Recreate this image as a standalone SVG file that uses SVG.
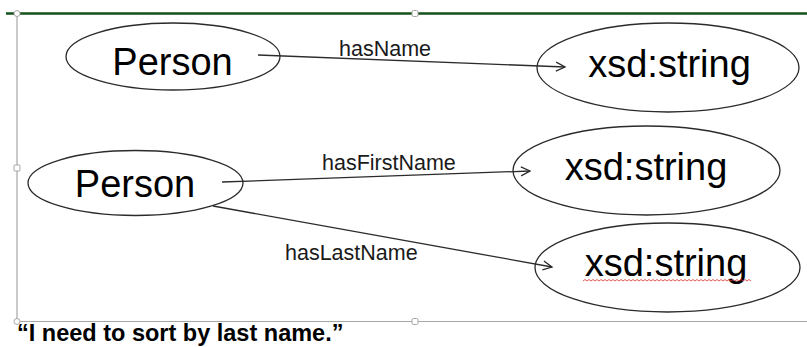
<svg xmlns="http://www.w3.org/2000/svg" width="807" height="347" viewBox="0 0 807 347">
  <style>
    .node { fill: #ffffff; stroke: #2b2b2b; stroke-width: 1.3; }
    .big { font-family: "Liberation Sans", Arial, sans-serif; font-size: 38px; fill: #000; }
    .lbl { font-family: "Liberation Sans", Arial, sans-serif; font-size: 21.5px; fill: #1a1a1a; }
    .edge { stroke: #2b2b2b; stroke-width: 1.3; fill: none; }
    .frame { stroke: #a6a6a6; stroke-width: 1.2; fill: none; }
    .handle { fill: #ffffff; stroke: #a6a6a6; stroke-width: 1; }
  </style>
  <defs>
    <marker id="arrow" markerUnits="userSpaceOnUse" markerWidth="12" markerHeight="12" refX="10" refY="6" orient="auto">
      <path d="M1,1.5 L10,6 L1,10.5" fill="none" stroke="#2b2b2b" stroke-width="1.3"/>
    </marker>
  </defs>
  <rect width="807" height="347" fill="#ffffff"/>

  <!-- selection frame and top rule -->
  <g id="frame">
    <line class="frame" x1="17" y1="13" x2="17" y2="321.5"/>
    <line class="frame" x1="17" y1="321.5" x2="807" y2="321.5"/>
    <line x1="6" y1="13.5" x2="807" y2="13.5" stroke="#14501a" stroke-width="2.6"/>
    <circle class="handle" cx="17" cy="13.5" r="3"/>
    <rect class="handle" x="412" y="10.5" width="6" height="6" rx="1.5"/>
    <rect class="handle" x="14" y="165" width="6" height="6" rx="1"/>
    <circle class="handle" cx="17" cy="321.5" r="3"/>
    <rect class="handle" x="412" y="318.5" width="6" height="6" rx="1.5"/>
  </g>

  <g id="person1">
    <ellipse class="node" cx="173" cy="56.5" rx="107" ry="33.5"/>
    <text class="big" x="172.5" y="75" text-anchor="middle">Person</text>
  </g>
  <g id="string1">
    <ellipse class="node" cx="668" cy="67.5" rx="131" ry="44.5"/>
    <text class="big" x="669.5" y="77" text-anchor="middle">xsd:string</text>
  </g>
  <g id="person2">
    <ellipse class="node" cx="135.5" cy="183" rx="107.5" ry="32.5"/>
    <text class="big" x="135" y="197" text-anchor="middle">Person</text>
  </g>
  <g id="string2">
    <ellipse class="node" cx="646.5" cy="170.5" rx="133.5" ry="44.5"/>
    <text class="big" x="646" y="180" text-anchor="middle">xsd:string</text>
  </g>
  <g id="string3">
    <ellipse class="node" cx="667.5" cy="267.5" rx="132.5" ry="44.5"/>
    <text class="big" x="666" y="276" text-anchor="middle">xsd:string</text>
    <!-- spell-check squiggle under the word -->
    <path d="M583,281 l2,-1.5 l2,1.5 l2,-1.5 l2,1.5 l2,-1.5 l2,1.5 l2,-1.5 l2,1.5 l2,-1.5 l2,1.5 l2,-1.5 l2,1.5 l2,-1.5 l2,1.5 l2,-1.5 l2,1.5 l2,-1.5 l2,1.5 l2,-1.5 l2,1.5 l2,-1.5 l2,1.5 l2,-1.5 l2,1.5 l2,-1.5 l2,1.5 l2,-1.5 l2,1.5 l2,-1.5 l2,1.5 l2,-1.5 l2,1.5 l2,-1.5 l2,1.5 l2,-1.5 l2,1.5 l2,-1.5 l2,1.5 l2,-1.5 l2,1.5 l2,-1.5 l2,1.5 l2,-1.5 l2,1.5 l2,-1.5 l2,1.5 l2,-1.5 l2,1.5 l2,-1.5 l2,1.5 l2,-1.5 l2,1.5 l2,-1.5 l2,1.5 l2,-1.5 l2,1.5 l2,-1.5 l2,1.5 l2,-1.5 l2,1.5 l2,-1.5 l2,1.5 l2,-1.5 l2,1.5 l2,-1.5 l2,1.5 l2,-1.5 l2,1.5 l2,-1.5 l2,1.5 l2,-1.5 l2,1.5 l2,-1.5 l2,1.5 l2,-1.5 l2,1.5 l2,-1.5 l2,1.5 l2,-1.5 l2,1.5 l2,-1.5 l2,1.5 l2,-1.5 l2,1.5" fill="none" stroke="#e03030" stroke-width="0.8"/>
  </g>

  <!-- connectors drawn over the ellipses -->
  <g id="connectors">
    <line class="edge" x1="258" y1="55" x2="565" y2="67" marker-end="url(#arrow)"/>
    <line class="edge" x1="222" y1="182" x2="530" y2="171" marker-end="url(#arrow)"/>
    <line class="edge" x1="213" y1="206" x2="552" y2="267" marker-end="url(#arrow)"/>
    <text class="lbl" x="339" y="56">hasName</text>
    <text class="lbl" x="322" y="170">hasFirstName</text>
    <text class="lbl" x="285" y="260">hasLastName</text>
  </g>

  <text x="17" y="341" font-family="'Liberation Sans', Arial, sans-serif" font-size="23.5" font-weight="bold" fill="#000">“I need to sort by last name.”</text>
</svg>
